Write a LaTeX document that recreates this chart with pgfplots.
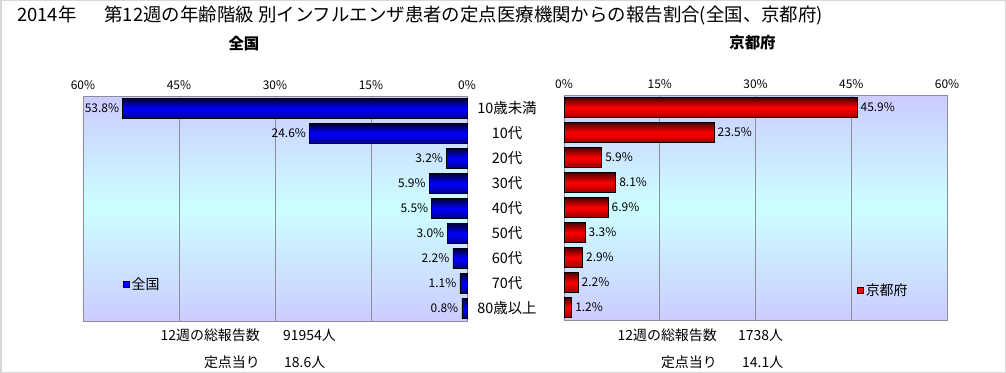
\documentclass[border=0pt]{standalone}
\usepackage{fontspec}
\setmainfont{Noto Sans CJK JP}
\usepackage{pgfplots}
\pgfplotsset{compat=1.18}
\definecolor{lav}{RGB}{204,204,255}
\definecolor{cyn}{RGB}{204,255,255}
\definecolor{gridc}{RGB}{140,140,155}
\definecolor{frameg}{RGB}{215,215,215}
\definecolor{bluetop}{RGB}{0,0,60}
\definecolor{bluebot}{RGB}{0,0,140}
\definecolor{bluemid}{RGB}{0,0,255}
\definecolor{redtop}{RGB}{80,0,0}
\definecolor{redbot}{RGB}{160,0,0}
\definecolor{redmid}{RGB}{255,0,0}
\pgfplotsset{
  common/.style={
    scale only axis, height=225bp,
    xmin=0, xmax=60, ymin=-0.5, ymax=8.5, y dir=reverse,
    xtick={0,15,30,45,60}, xticklabels={0\%,15\%,30\%,45\%,60\%},
    xticklabel pos=top,
    xticklabel style={font=\fontsize{12}{14}\selectfont, yshift=3bp},
    xmajorgrids, grid style={gridc, line width=0.8bp},
    axis background/.style={top color=lav, bottom color=lav, middle color=cyn},
    axis line style={gridc, line width=0.8bp},
    tick style={draw=none},
    point meta=x,
    /pgf/number format/assume math mode=true,
    nodes near coords={\pgfmathprintnumber[fixed,fixed zerofill,precision=1]{\pgfplotspointmeta}\%},
    every node near coord/.append style={font=\fontsize{12}{14}\selectfont, text=black},
    clip=false,
    legend cell align=left,
    legend style={draw=none, fill=none, inner sep=0pt, font=\fontsize{14}{16}\selectfont},
    title style={font=\bfseries\fontsize{15.5}{18}\selectfont, at={(0.5,1)}, anchor=center, yshift=46bp},
  },
  bluebar/.style={xbar, bar width=19.5bp, bar shift=0pt, draw=black, line width=0.6bp,
    top color=bluetop, bottom color=bluebot, middle color=bluemid, forget plot},
  redbar/.style={xbar, bar width=19.5bp, bar shift=0pt, draw=black, line width=0.6bp,
    top color=redtop, bottom color=redbot, middle color=redmid, forget plot},
}
\begin{document}
\begin{tikzpicture}
\useasboundingbox (0,0) rectangle (1006bp,373bp);
\draw[frameg, line width=1.5bp] (0.75bp,0.75bp) rectangle (1005.25bp,372.25bp);
\node[anchor=west, font=\fontsize{18.5}{22}\selectfont, inner sep=0pt] at (17bp,357bp)
  {2014年\hspace{28bp}第12週の年齢階級 別インフルエンザ患者の定点医療機関からの報告割合(全国、京都府)};

\begin{axis}[common, at={(83bp,52bp)}, anchor=south west, width=384bp,
  x dir=reverse,
  title={全国}, title style={xshift=-31bp},
  ytick={0,1,2,3,4,5,6,7,8},
  yticklabels={10歳未満,10代,20代,30代,40代,50代,60代,70代,80歳以上},
  yticklabel pos=right,
  yticklabel style={anchor=center, xshift=40bp, font=\fontsize{14.5}{16}\selectfont},
  every node near coord/.append style={anchor=east},
  legend style={at={(0.104,0.164)}, anchor=west},
]
\addlegendimage{legend image code/.code={\draw[fill=bluemid, draw=black, line width=0.6bp] (0bp,-3bp) rectangle (6bp,3bp);}}
\addlegendentry{全国}
\addplot[bluebar] coordinates {(53.8,0)};
\addplot[bluebar] coordinates {(24.6,1)};
\addplot[bluebar] coordinates {(3.2,2)};
\addplot[bluebar] coordinates {(5.9,3)};
\addplot[bluebar] coordinates {(5.5,4)};
\addplot[bluebar] coordinates {(3.0,5)};
\addplot[bluebar] coordinates {(2.2,6)};
\addplot[bluebar] coordinates {(1.1,7)};
\addplot[bluebar] coordinates {(0.8,8)};
\end{axis}

\begin{axis}[common, at={(564bp,53bp)}, anchor=south west, width=383bp,
  title={京都府}, title style={xshift=-3bp},
  ytick=\empty,
  every node near coord/.append style={anchor=west},
  legend style={at={(0.765,0.133)}, anchor=west},
]
\addlegendimage{legend image code/.code={\draw[fill=redmid, draw=black, line width=0.6bp] (0bp,-3bp) rectangle (6bp,3bp);}}
\addlegendentry{京都府}
\addplot[redbar] coordinates {(45.9,0)};
\addplot[redbar] coordinates {(23.5,1)};
\addplot[redbar] coordinates {(5.9,2)};
\addplot[redbar] coordinates {(8.1,3)};
\addplot[redbar] coordinates {(6.9,4)};
\addplot[redbar] coordinates {(3.3,5)};
\addplot[redbar] coordinates {(2.9,6)};
\addplot[redbar] coordinates {(2.2,7)};
\addplot[redbar] coordinates {(1.2,8)};
\end{axis}

\begin{scope}[font=\fontsize{14}{16}\selectfont, inner sep=0pt]
\node[anchor=east] at (260bp,38bp) {12週の総報告数};
\node[anchor=west] at (283bp,38bp) {91954人};
\node[anchor=east] at (260bp,11bp) {定点当り};
\node[anchor=west] at (284bp,11bp) {18.6人};
\node[anchor=east] at (717bp,38bp) {12週の総報告数};
\node[anchor=west] at (738bp,38bp) {1738人};
\node[anchor=east] at (717bp,11bp) {定点当り};
\node[anchor=west] at (742bp,11bp) {14.1人};
\end{scope}
\end{tikzpicture}
\end{document}
